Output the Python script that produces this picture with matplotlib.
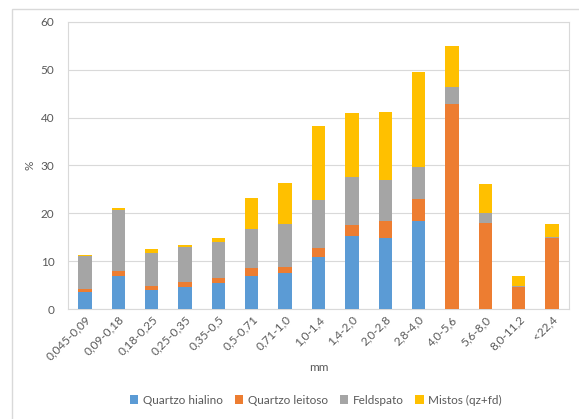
import matplotlib
matplotlib.use("Agg")
import matplotlib.pyplot as plt
from matplotlib.patches import Rectangle
import numpy as np

categories = ["0,045-0,09", "0,09-0,18", "0,18-0,25", "0,25-0,35", "0,35-0,5",
              "0,5-0,71", "0,71-1,0", "1,0-1,4", "1,4-2,0", "2,0-2,8", "2,8-4,0",
              "4,0-5,6", "5,6-8,0", "8,0-11,2", "<22,4"]
quartzo_hialino = [3.6, 7.0, 4.0, 4.7, 5.5, 7.0, 7.5, 10.8, 15.2, 14.9, 18.3, 0, 0, 0, 0]
quartzo_leitoso = [0.6, 1.0, 0.8, 1.0, 1.0, 1.5, 1.2, 1.9, 2.4, 3.4, 4.6, 42.9, 18.0, 4.5, 14.9]
feldspato = [6.9, 12.6, 7.0, 7.3, 7.5, 8.2, 9.0, 10.0, 10.0, 8.6, 6.7, 3.6, 2.1, 0.4, 0.2]
mistos = [0.2, 0.5, 0.7, 0.3, 0.9, 6.6, 8.7, 15.5, 13.3, 14.3, 19.9, 8.5, 6.0, 2.1, 2.7]

series = [
    ("Quartzo hialino", quartzo_hialino, "#5B9BD5"),
    ("Quartzo leitoso", quartzo_leitoso, "#ED7D31"),
    ("Feldspato", feldspato, "#A5A5A5"),
    ("Mistos (qz+fd)", mistos, "#FFC000"),
]

plt.rcParams['font.family'] = ['Lato', 'DejaVu Sans']
txt = "#595959"
fig = plt.figure(figsize=(5.79, 4.19), dpi=100)
fig.patches.append(Rectangle((12/579, -0.01), 1.0, (419-9)/419 + 0.01,
                             transform=fig.transFigure, fill=False,
                             edgecolor="#D9D9D9", linewidth=1.0))
ax = fig.add_axes([68.3/579, (419-309)/419, 500.4/579, 287/419])

x = np.arange(len(categories))
bottom = np.zeros(len(categories))
for name, vals, col in series:
    v = np.array(vals)
    ax.bar(x, v, 0.4, bottom=bottom, color=col, label=name, zorder=3)
    bottom += v

ax.set_xlim(-0.5, len(categories) - 0.5)
ax.set_ylim(0, 60)
ax.set_yticks(range(0, 61, 10))
ax.yaxis.grid(True, color="#D9D9D9", linewidth=0.8, zorder=0)
for s in ax.spines.values():
    s.set_color("#D9D9D9")
    s.set_linewidth(0.8)
ax.tick_params(axis='both', length=0, colors=txt, labelsize=8.5)
ax.tick_params(axis='y', pad=10)
ax.set_xticks(x)
ax.set_xticklabels(categories, rotation=45, ha='right', rotation_mode='anchor')
ax.set_xlabel("mm", color=txt, fontsize=8.5, labelpad=0)
ax.set_ylabel("%", color=txt, fontsize=8.5, labelpad=4)

fig.legend(loc='center', bbox_to_anchor=(316/579, (419-400)/419), ncol=4,
           frameon=False, fontsize=8.5, handlelength=0.7, handleheight=0.7,
           columnspacing=1.0, handletextpad=0.4, labelcolor=txt)

fig.savefig("out.png", dpi=100)
